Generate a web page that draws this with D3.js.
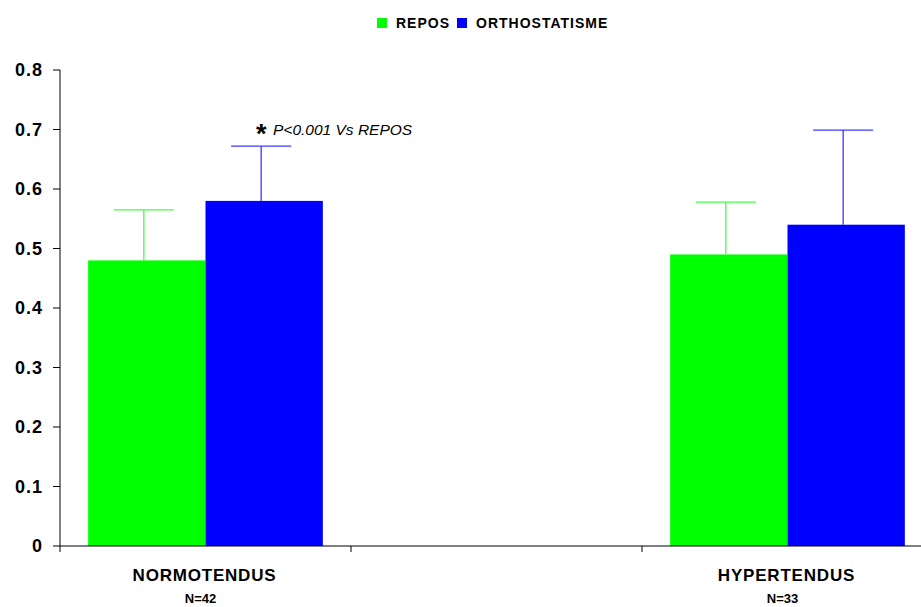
<!DOCTYPE html>
<html>
<head>
<meta charset="utf-8">
<script src="https://cdn.jsdelivr.net/npm/d3@7"></script>
<style>
  body { margin: 0; background: #fff; }
  svg { font-family: "Liberation Sans", Arial, sans-serif; }
</style>
</head>
<body>
<svg id="chart" width="921" height="607"></svg>
<script>
// data
const categories = ["NORMOTENDUS", "", "HYPERTENDUS"];
const counts = ["N=42", "", "N=33"];
const seriesNames = ["REPOS", "ORTHOSTATISME"];
const reposValues = [0.48, null, 0.49];
const reposErrors = [0.085, null, 0.088];
const orthoValues = [0.58, null, 0.54];
const orthoErrors = [0.092, null, 0.159];
const yTicks = [0, 0.1, 0.2, 0.3, 0.4, 0.5, 0.6, 0.7, 0.8];

const colors = ["#00ff00", "#0000ff"];
const errColors = ["#44ff44", "#3a3aff"];

const svg = d3.select("#chart");
const plotLeft = 60, plotRight = 933, plotTop = 70, plotBottom = 546;

const x = d3.scaleBand().domain(d3.range(categories.length)).range([plotLeft, plotRight]);
const inner = d3.scaleBand().domain([0, 1]).range([0, x.bandwidth()]).paddingOuter(0.24);
const y = d3.scaleLinear().domain([0, 0.8]).range([plotBottom, plotTop]);

// y axis
svg.append("line").attr("x1", plotLeft).attr("x2", plotLeft).attr("y1", y(0.8)).attr("y2", plotBottom)
   .attr("stroke", "#000");
svg.selectAll(".ytick").data(yTicks).join("line")
   .attr("x1", plotLeft - 7).attr("x2", plotLeft).attr("y1", d => y(d)).attr("y2", d => y(d))
   .attr("stroke", "#000");
svg.selectAll(".ylab").data(yTicks).join("text")
   .attr("x", 43).attr("y", d => y(d)).attr("dy", "0.36em")
   .attr("text-anchor", "end").attr("font-weight", "bold").attr("font-size", 18)
   .attr("letter-spacing", 1)
   .text(d => d === 0 ? "0" : d.toFixed(1));

// bars
const series = [
  { vals: reposValues, errs: reposErrors },
  { vals: orthoValues, errs: orthoErrors }
];
series.forEach((s, si) => {
  const items = s.vals.map((v, i) => ({ i, v, e: s.errs[i] })).filter(d => d.v != null);
  const g = svg.append("g");
  g.selectAll("rect").data(items).join("rect")
   .attr("x", d => x(d.i) + inner(si)).attr("width", inner.bandwidth())
   .attr("y", d => y(d.v)).attr("height", d => y(0) - y(d.v))
   .attr("fill", colors[si]);
  const cx = d => x(d.i) + inner(si) + inner.bandwidth() / 2 - 3;
  g.selectAll(".stem").data(items).join("line")
   .attr("x1", cx).attr("x2", cx).attr("y1", d => y(d.v)).attr("y2", d => y(d.v + d.e))
   .attr("stroke", errColors[si]).attr("stroke-width", 1.3);
  g.selectAll(".cap").data(items).join("line")
   .attr("x1", d => cx(d) - 30).attr("x2", d => cx(d) + 30)
   .attr("y1", d => y(d.v + d.e)).attr("y2", d => y(d.v + d.e))
   .attr("stroke", errColors[si]).attr("stroke-width", 1.3);
});

// x axis
svg.append("line").attr("x1", plotLeft).attr("x2", 921).attr("y1", plotBottom).attr("y2", plotBottom)
   .attr("stroke", "#000");
svg.selectAll(".xtick").data(d3.range(categories.length)).join("line")
   .attr("x1", d => x(d)).attr("x2", d => x(d)).attr("y1", plotBottom).attr("y2", plotBottom + 6)
   .attr("stroke", "#000");
svg.selectAll(".xlab").data(d3.range(categories.length)).join("text")
   .attr("x", d => x(d) + x.bandwidth() / 2 - 1).attr("y", 581)
   .attr("text-anchor", "middle").attr("font-weight", "bold").attr("font-size", 17)
   .attr("letter-spacing", 0.8)
   .text(d => categories[d]);
svg.selectAll(".nlab").data(d3.range(categories.length)).join("text")
   .attr("x", d => x(d) + x.bandwidth() / 2 - 5).attr("y", 603)
   .attr("text-anchor", "middle").attr("font-weight", "bold").attr("font-size", 13)
   .text(d => counts[d]);

// legend
const legend = svg.append("g").attr("font-weight", "bold").attr("font-size", 14).attr("letter-spacing", 1);
const legX = [377, 457];
seriesNames.forEach((n, i) => {
  legend.append("rect").attr("x", legX[i]).attr("y", 18).attr("width", 10).attr("height", 10)
        .attr("fill", colors[i]);
  legend.append("text").attr("x", legX[i] + 19).attr("y", 28).text(n);
});

// annotation
svg.append("text").attr("x", 256).attr("y", 143).attr("font-size", 27).attr("font-weight", "bold").text("*");
svg.append("text").attr("x", 273).attr("y", 135).attr("font-size", 15.5).attr("font-style", "italic")
   .text("P<0.001 Vs REPOS");
</script>
</body>
</html>
